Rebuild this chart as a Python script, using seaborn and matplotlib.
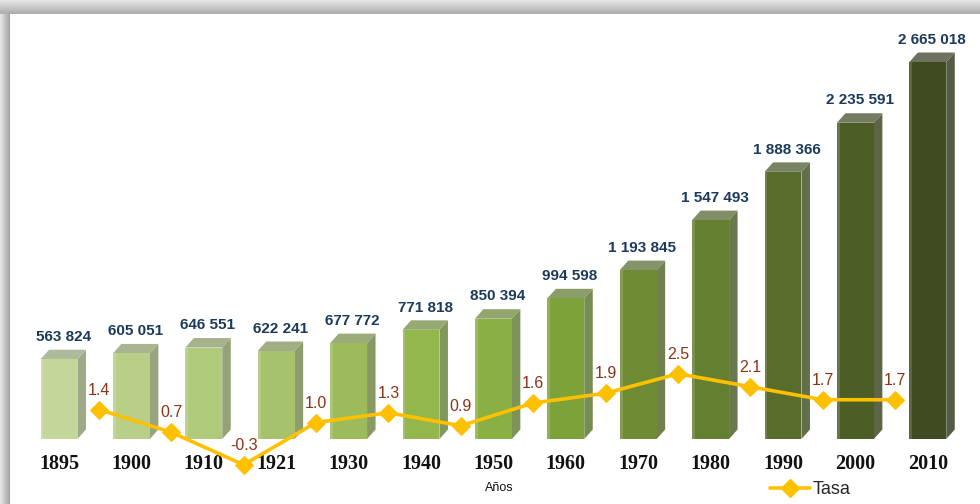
import numpy as np
import pandas as pd
import matplotlib
matplotlib.use("Agg")
import matplotlib.pyplot as plt
import matplotlib.colors as mcolors
from matplotlib.patches import Polygon
from matplotlib.lines import Line2D
import seaborn as sns

# ---------------- data ----------------
years = ["1895", "1900", "1910", "1921", "1930", "1940", "1950",
         "1960", "1970", "1980", "1990", "2000", "2010"]
population = [563824, 605051, 646551, 622241, 677772, 771818, 850394,
              994598, 1193845, 1547493, 1888366, 2235591, 2665018]
tasa = [1.4, 0.7, -0.3, 1.0, 1.3, 0.9, 1.6, 1.9, 2.5, 2.1, 1.7, 1.7]
x_title = "Años"
legend_label = "Tasa"

front_colors = ['#C4D79B', '#B9CF88', '#B0CA7C', '#A6C26C', '#9CBB5B', '#93B64D',
                '#8AB043', '#7DA23A', '#6F8C35', '#657F31', '#586D2B', '#4C5E26', '#3F4B21']

sns.set_theme(style="white")
plt.rcParams['font.family'] = ['Liberation Sans', 'DejaVu Sans']

W, H = 980, 504
fig = plt.figure(figsize=(W / 100, H / 100), dpi=100)

# background frame with shadow (top and left)
bg = fig.add_axes([0, 0, 1, 1], zorder=-5)
img = np.ones((H, W))
top_rows = 14
for r in range(top_rows):
    img[r, :] = 0.90 - 0.22 * (r / (top_rows - 1))
left_cols = 10
for c in range(left_cols):
    v = 0.90 - 0.26 * (c / (left_cols - 1))
    img[top_rows:, c] = v
    img[:top_rows, c] = np.minimum(img[:top_rows, c], 0.9)
bg.imshow(img, cmap='gray', vmin=0, vmax=1, aspect='auto', extent=(0, W, H, 0))
bg.set_xlim(0, W)
bg.set_ylim(H, 0)
bg.axis('off')

# main axes in pixel layout
L, R, T, B = 5, 975, 20, 439
ax = fig.add_axes([L / W, (H - B) / H, (R - L) / W, (B - T) / H])
ax.patch.set_alpha(0)

df = pd.DataFrame({"year": years, "pop": population})
sns.barplot(data=df, x="year", y="pop", hue="year", palette=front_colors,
            order=years, hue_order=years, width=0.51, legend=False,
            saturation=1, ax=ax, zorder=2)

spacing = 72.4
x0 = -(59 - L) / spacing
x1 = (R - 59) / spacing
ax.set_xlim(x0, x1)
ymax = population[-1] * (B - T) / (B - 62)
ax.set_ylim(0, ymax)

# 3D faces derived from the bar patches
px_x = (x1 - x0) / (R - L)      # data units per pixel (x)
px_y = ymax / (B - T)           # data units per pixel (y)
dxp, dyp = 8.5, 9.5
dx, dy = dxp * px_x, dyp * px_y


def mix(c, g, a):
    c = np.array(mcolors.to_rgb(c))
    g = np.array(mcolors.to_rgb(g))
    return tuple(c * (1 - a) + g * a)


for p, col in zip(ax.patches[:len(years)], front_colors):
    x, w, h = p.get_x(), p.get_width(), p.get_height()
    p.set_edgecolor('none')
    side = Polygon([(x + w, 0), (x + w, h), (x + w + dx, h + dy), (x + w + dx, dy)],
                   closed=True, facecolor=mix(col, '#707070', 0.45), edgecolor='none', zorder=1.9)
    top = Polygon([(x, h), (x + w, h), (x + w + dx, h + dy), (x + dx, h + dy)],
                  closed=True, facecolor=mix(col, '#9A9A9A', 0.5), edgecolor='none', zorder=1.9)
    ax.add_patch(side)
    ax.add_patch(top)
    # soft highlight strip on the front face
    ax.add_patch(Polygon([(x, 0), (x, h), (x + w * 0.08, h), (x + w * 0.08, 0)], closed=True,
                         facecolor=mix(col, '#FFFFFF', 0.15), edgecolor='none', zorder=2.1))
    ax.annotate(f"{int(round(h)):,}".replace(",", " "), xy=(x + w / 2, h),
                xytext=(3, 11), textcoords='offset points', ha='center', va='bottom',
                fontsize=11, fontweight='bold', color='#1B3A5C', zorder=6)

ax.tick_params(axis='x', length=0, pad=11)
for lab in ax.get_xticklabels():
    lab.set_fontfamily(['Liberation Serif', 'DejaVu Serif'])
    lab.set_fontweight('bold')
    lab.set_fontsize(14.5)
    lab.set_color('#111111')
ax.set_yticks([])
ax.set_xlabel("")
ax.set_ylabel("")
for s in ax.spines.values():
    s.set_visible(False)

# secondary axis for growth rate
ax2 = ax.twinx()
xs = np.arange(len(tasa)) + 0.55
sns.lineplot(x=xs, y=tasa, ax=ax2, color='#FFC000', linewidth=2.6, marker='D',
             markersize=9, markeredgecolor='#FFC000', clip_on=False, zorder=5)
unit = 32.5
v0 = (455 - B) / unit          # zero sits 16 px below the bar baseline
v1 = v0 + (B - T) / unit
ax2.set_ylim(v0, v1)
ax2.set_xlim(x0, x1)
for xv, tv in zip(xs, tasa):
    ax2.annotate(f"{tv:.1f}", xy=(xv, tv), xytext=(0, 14), textcoords='offset points',
                 ha='center', va='center', fontsize=11.5, color='#8B3214', zorder=7,
                 annotation_clip=False)
ax2.set_yticks([])
ax2.set_ylabel("")
for s in ax2.spines.values():
    s.set_visible(False)

fig.text(499 / W, 1 - 488 / H, x_title, ha='center', va='center', fontsize=9, color='#111111')

handle = Line2D([], [], color='#FFC000', linewidth=2.6, marker='D', markersize=9)
fig.legend([handle], [legend_label], loc='center left', bbox_to_anchor=(770 / W, 1 - 490 / H),
           frameon=False, fontsize=13, handlelength=2.2, handletextpad=0.15,
           borderpad=0, borderaxespad=0)

fig.savefig("out.png", dpi=100)
